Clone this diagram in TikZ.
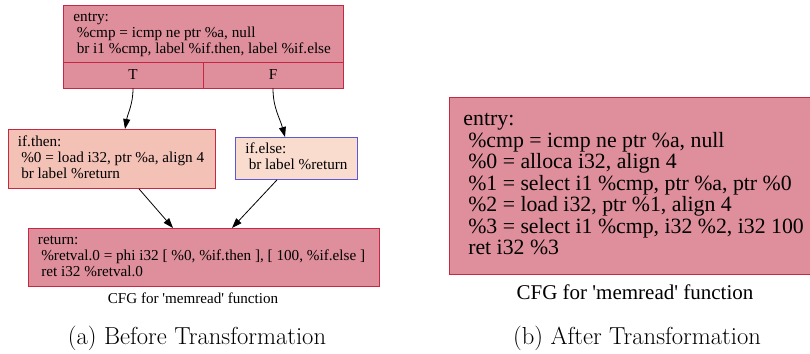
\documentclass[tikz,border=0pt]{standalone}
\usepackage{fontspec}
\newfontfamily\cfgfont{Liberation Serif}
\usetikzlibrary{arrows.meta,calc}

\definecolor{hotfill}{HTML}{DE8F9B}
\definecolor{hotline}{HTML}{C42843}
\definecolor{warmfill}{HTML}{F4C1B6}
\definecolor{coolfill}{HTML}{FADCCF}
\definecolor{coolline}{HTML}{5A5AD2}

\newcommand{\ind}{\hspace*{0.22em}}
% left-aligned block of code lines, set in a fixed-width slot so it never wraps
\newcommand{\codeblock}[2]{\makebox[#1][l]{\begin{tabular}{@{}l@{}}#2\end{tabular}}}

\tikzset{
  bb/.style={draw=hotline, line width=0.9pt, inner ysep=0pt, anchor=north west,
             font=\cfgfont\fontsize{15.2}{16}\selectfont},
  cell/.style={bb, anchor=center, fill=hotfill, minimum width=140, minimum height=26, inner sep=0pt},
  edge/.style={line width=0.8pt, -{Triangle[length=10pt,width=7pt]}},
  cfgcap/.style={font=\cfgfont\fontsize{15.1}{17}\selectfont},
  subcap/.style={font=\fontsize{24.6}{28}\selectfont}
}

\begin{document}
\begin{tikzpicture}[x=1pt,y=-1pt]
\useasboundingbox (0,0) rectangle (810,353);
\clip (0,0) rectangle (810,353);

% ---- before: entry block with its branch record ----
\node[bb, fill=hotfill, minimum width=280, minimum height=57, inner xsep=10pt] (entry) at (63,5)
  {\codeblock{260pt}{entry:\\\ind\%cmp = icmp ne ptr \%a, null\\\ind br i1 \%cmp, label \%if.then, label \%if.else}};
\node[cell] (T) at (133,75) {T};
\node[cell] (F) at (273,75) {F};

% ---- successors ----
\node[bb, fill=warmfill, minimum width=207, minimum height=59, inner xsep=9.5pt] (then) at (8,129)
  {\codeblock{188pt}{if.then:\\\ind\%0 = load i32, ptr \%a, align 4\\\ind br label \%return}};
\node[bb, draw=coolline, fill=coolfill, minimum width=122, minimum height=42, inner xsep=10pt] (else) at (235,137)
  {\codeblock{102pt}{if.else:\\\ind br label \%return}};
\node[bb, fill=hotfill, minimum width=351, minimum height=58, inner xsep=9.5pt] (ret) at (28,228)
  {\codeblock{332pt}{return:\\\ind\%retval.0 = phi i32 [ \%0, \%if.then ], [ 100, \%if.else ]\\\ind ret i32 \%retval.0}};

\draw[edge] (T.south) to[out=-90,in=80] ($(then.north west)+(117,0)$);
\draw[edge] (F.south) to[out=-90,in=105] ($(else.north west)+(50,0)$);
\draw[edge] ($(then.south west)+(131,0)$) -- ($(ret.north west)+(145,0)$);
\draw[edge] ($(else.south west)+(42,0)$) -- ($(ret.north west)+(204,0)$);

\node[cfgcap] (capa) at (193,298) {CFG for \textquotesingle memread\textquotesingle{} function};
\node[subcap] (suba) at (197,338) {(a) Before Transformation};

% ---- after: single merged block ----
\node[bb, fill=hotfill, minimum width=366, minimum height=177, inner xsep=14pt,
      font=\cfgfont\fontsize{21.8}{21.3}\selectfont] (merged) at (449,97)
  {\raisebox{2pt}{\codeblock{338pt}{entry:\\\ind\%cmp = icmp ne ptr \%a, null\\\ind\%0 = alloca i32, align 4\\
   \ind\%1 = select i1 \%cmp, ptr \%a, ptr \%0\\\ind\%2 = load i32, ptr \%1, align 4\\
   \ind\%3 = select i1 \%cmp, i32 \%2, i32 100\\\ind ret i32 \%3}}};

\node[cfgcap, font=\cfgfont\fontsize{21}{24}\selectfont] (capb) at (635,292)
  {CFG for \textquotesingle memread\textquotesingle{} function};
\node[subcap] (subb) at (637,338) {(b) After Transformation};
\end{tikzpicture}
\end{document}
